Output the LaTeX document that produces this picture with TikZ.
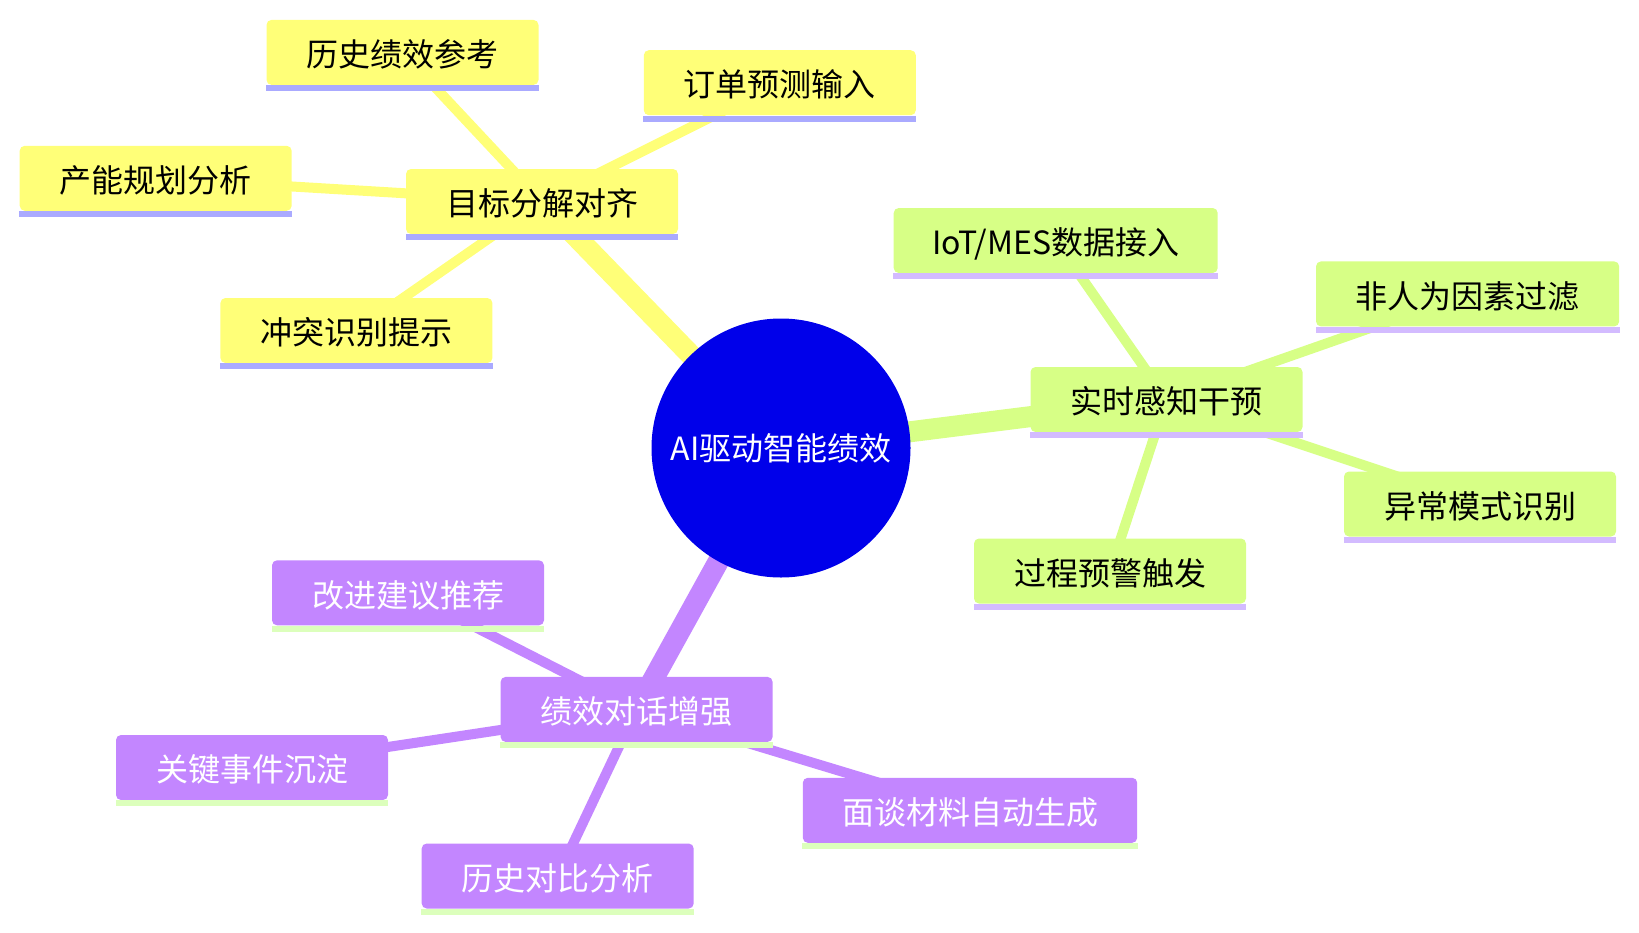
\documentclass[tikz,border=0pt]{standalone}
\usepackage{fontspec}
\setmainfont{Noto Sans CJK SC}
\usetikzlibrary{backgrounds}
\definecolor{rootblue}{HTML}{0000EA}
\definecolor{secY}{HTML}{FFFF78}
\definecolor{secG}{HTML}{D7FF86}
\definecolor{secP}{HTML}{C386FF}
\definecolor{lineY}{HTML}{AAAAFF}
\definecolor{lineG}{HTML}{D3BBFF}
\definecolor{lineP}{HTML}{DCFFBC}
\begin{document}
\begin{tikzpicture}[x=0.5pt,y=-0.5pt,
  mmbox/.style={rectangle, rounded corners=2.5pt, minimum height=32.5pt,
    minimum width=136pt, inner xsep=19pt, inner ysep=0pt,
    text height=16pt, text depth=1.8pt,
    font=\fontsize{16pt}{18pt}\selectfont},
  ybox/.style={mmbox, fill=secY, text=black},
  gbox/.style={mmbox, fill=secG, text=black},
  pbox/.style={mmbox, fill=secP, text=white},
  rootnode/.style={circle, fill=rootblue, text=white, minimum size=129.5pt,
    inner sep=0pt, font=\fontsize{16pt}{18pt}\selectfont},
  mainedge/.style={line width=10.5pt},
  subedge/.style={line width=5pt}
]
\useasboundingbox (0,0) rectangle (1639,932);

% root
\node[rootnode] (root) at (781,448) {AI驱动智能绩效};

% yellow section
\node[ybox] (goal) at (542,201.5) {目标分解对齐};
\node[ybox] (hist) at (402.5,52.4) {历史绩效参考};
\node[ybox] (order) at (779.8,82.7) {订单预测输入};
\node[ybox] (cap) at (155.7,178.3) {产能规划分析};
\node[ybox] (conf) at (356.4,330.5) {冲突识别提示};

% green section
\node[gbox] (rt) at (1166.5,399.5) {实时感知干预};
\node[gbox, minimum width=162pt] (iot) at (1055.7,240.5) {IoT/MES数据接入};
\node[gbox, minimum width=151.6pt] (filt) at (1467.6,293.9) {非人为因素过滤};
\node[gbox] (anom) at (1480,504) {异常模式识别};
\node[gbox] (warn) at (1110,571) {过程预警触发};

% purple section
\node[pbox] (talk) at (636.6,709.4) {绩效对话增强};
\node[pbox] (impr) at (408,592.8) {改进建议推荐};
\node[pbox] (key) at (252,767.5) {关键事件沉淀};
\node[pbox] (hcmp) at (557.7,876) {历史对比分析};
\node[pbox, minimum width=167.2pt] (mat) at (970,810.3) {面谈材料自动生成};

% stripes
\foreach \n in {goal,hist,order,cap,conf}
  \fill[lineY] (\n.south west) rectangle ([yshift=-3pt]\n.south east);
\foreach \n in {rt,iot,filt,anom,warn}
  \fill[lineG] (\n.south west) rectangle ([yshift=-3pt]\n.south east);
\foreach \n in {talk,impr,key,hcmp,mat}
  \fill[lineP] (\n.south west) rectangle ([yshift=-3pt]\n.south east);

% edges
\begin{pgfonlayer}{background}
  \draw[mainedge, secY] (root.center) -- (goal.center);
  \draw[mainedge, secG] (root.center) -- (rt.center);
  \draw[mainedge, secP] (root.center) -- (talk.center);
  \foreach \n in {hist,order,cap,conf}
    \draw[subedge, secY] (goal.center) -- (\n.center);
  \foreach \n in {iot,filt,anom,warn}
    \draw[subedge, secG] (rt.center) -- (\n.center);
  \foreach \n in {impr,key,hcmp,mat}
    \draw[subedge, secP] (talk.center) -- (\n.center);
\end{pgfonlayer}
\end{tikzpicture}
\end{document}
